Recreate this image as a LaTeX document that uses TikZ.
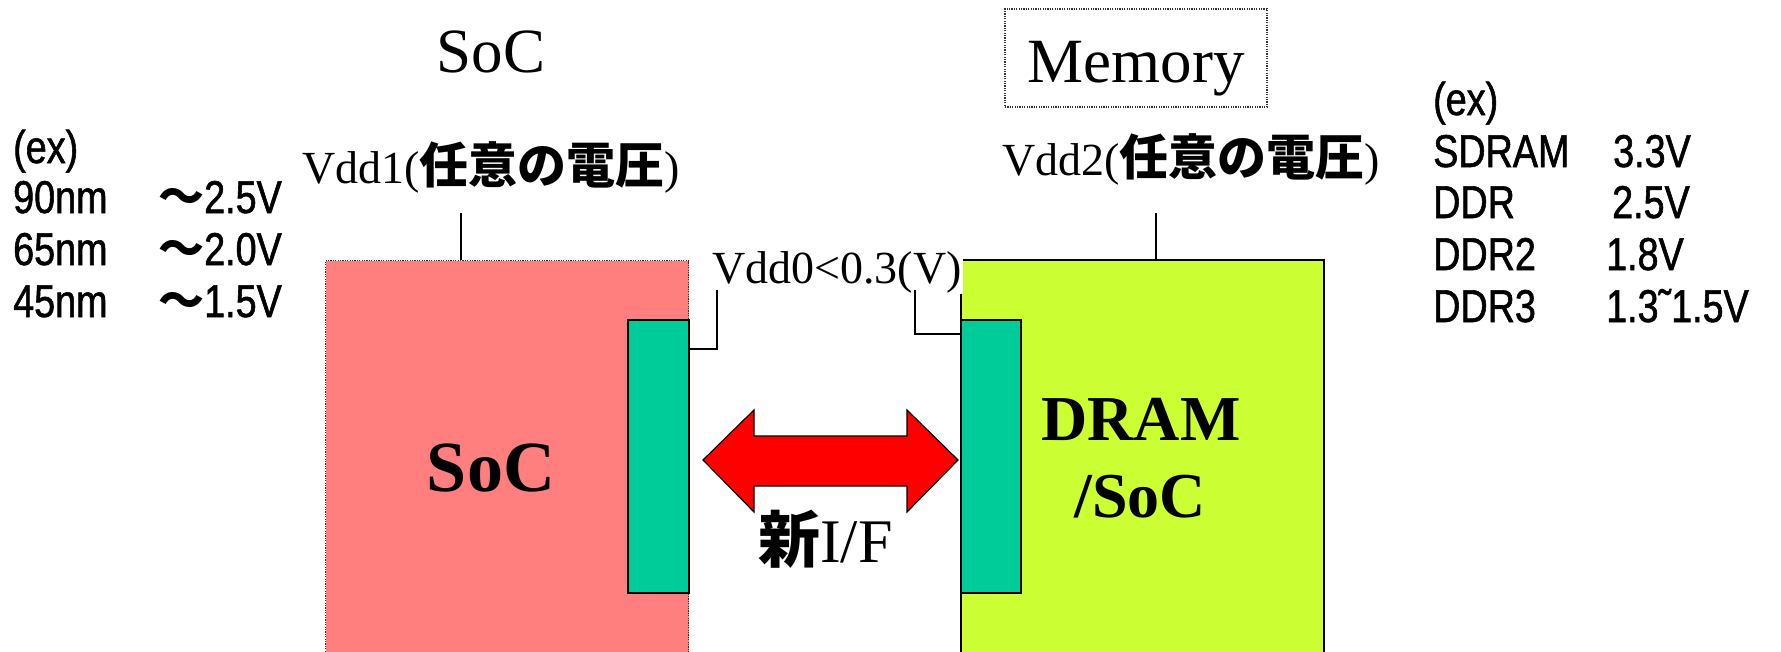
\documentclass[tikz,border=0pt]{standalone}
\usepackage{fontspec}
\setmainfont{Liberation Serif}
\newfontfamily\jp{Noto Sans CJK JP}
\newfontfamily\nsans{Liberation Sans}[FakeStretch=0.82, FakeBold=1.2]
\definecolor{socpink}{HTML}{FF7F7F}
\definecolor{dramgreen}{HTML}{CCFF33}
\definecolor{ifteal}{HTML}{00CC99}
\definecolor{ifred}{HTML}{FF0000}
\tikzset{
  txt/.style={inner sep=0pt, anchor=base},
  txtw/.style={inner sep=0pt, anchor=base west},
  ser46/.style={font=\fontsize{46}{52}\selectfont},
  ser63/.style={font=\fontsize{63}{70}\selectfont},
  list/.style={txtw, font=\nsans\fontsize{46}{52}\selectfont},
  dotbox/.style={draw=black!80, line width=1.2pt, dash pattern=on 1.2pt off 1.2pt},
  socbox/.style={dotbox, fill=socpink, anchor=north west, inner sep=0pt},
  drambox/.style={draw=black, line width=1.8pt, fill=dramgreen, anchor=north west, inner sep=0pt},
  ifbox/.style={draw=black, line width=1.5pt, fill=ifteal, anchor=north west, inner sep=0pt},
  wire/.style={draw=black, line width=1.5pt},
}
\newcommand{\jpv}[1]{{\jp\bfseries\fontsize{49}{52}\selectfont #1}}
\begin{document}
\begin{tikzpicture}[x=1pt,y=-1pt]
\clip (0,0) rectangle (1781,651);
\fill[white] (0,0) rectangle (1781,651);

% main blocks
\node[socbox, minimum width=363pt, minimum height=420pt] (soc) at (325,260) {};
\node[drambox, minimum width=363pt, minimum height=420pt] (dram) at (960,259) {};
\node[ifbox, minimum width=61pt, minimum height=273pt] (ifl) at (627,319) {};
\node[ifbox, minimum width=60pt, minimum height=273pt] (ifr) at (960,319) {};

% block texts
\node[txt, font=\bfseries\fontsize{72}{80}\selectfont] (soctxt) at (491,491) {SoC};
\node[txt, font=\bfseries\fontsize{64}{72}\selectfont] (dramtxt) at (1141,440) {DRAM};
\node[txt, font=\bfseries\fontsize{64}{72}\selectfont] (dramsoc) at (1140,517) {/SoC};

% titles
\node[txt, ser63] (soctitle) at (491,72) {SoC};
\node[dotbox, minimum width=262pt, minimum height=98pt, inner sep=0pt] (memframe) at (1136,58) {};
\node[txt, ser63] (memtitle) at (1136,82) {Memory};

% Vdd labels
\node[txtw, ser46] (vdd1) at (302,183) {Vdd1(\jpv{任意の電圧})};
\node[txtw, ser46] (vdd2) at (1002,175) {Vdd2(\jpv{任意の電圧})};
\coordinate (v1top) at (461,213);
\coordinate (v2top) at (1156,213);
\draw[wire] (v1top) -- (v1top |- soc.north);
\draw[wire] (v2top) -- (v2top |- dram.north);

% Vdd0 label and wires
\node[txtw, ser46, fill=white, inner sep=1pt] (vdd0) at (711,283) {Vdd0<0.3(V)};
\coordinate (v0l) at (717,290);
\coordinate (v0r) at (915,290);
\coordinate (yl) at (0,349);
\coordinate (yr) at (0,334);
\draw[wire] (v0l) |- (ifl.east |- yl);
\draw[wire] (v0r) |- (ifr.west |- yr);

% double arrow
\draw[fill=ifred, draw=black, line width=1.2pt, line join=miter]
  (703,460) -- (754,410) -- (754,436) -- (907,436) -- (907,410) -- (958,460)
  -- (907,512) -- (907,486) -- (754,486) -- (754,512) -- cycle;
\node[txtw, font=\fontsize{62}{70}\selectfont] (newif) at (758,562) {{\jp\bfseries 新}I/F};

% left list
\node[list] (lex) at (13,163) {(ex)};
\node[list] (l90) at (13,213) {\makebox[145pt][l]{90nm}{\jp\bfseries ～}2.5V};
\node[list] (l65) at (13,265) {\makebox[145pt][l]{65nm}{\jp\bfseries ～}2.0V};
\node[list] (l45) at (13,317) {\makebox[145pt][l]{45nm}{\jp\bfseries ～}1.5V};

% right list
\node[list] (rex) at (1433,115) {(ex)};
\node[list] (rsd) at (1433,167) {\makebox[180pt][l]{SDRAM}3.3V};
\node[list] (rddr) at (1433,218) {\makebox[179pt][l]{DDR}2.5V};
\node[list] (rddr2) at (1433,270) {\makebox[173pt][l]{DDR2}1.8V};
\node[list] (rddr3) at (1433,322) {\makebox[173pt][l]{DDR3}1.3˜1.5V};
\end{tikzpicture}
\end{document}
